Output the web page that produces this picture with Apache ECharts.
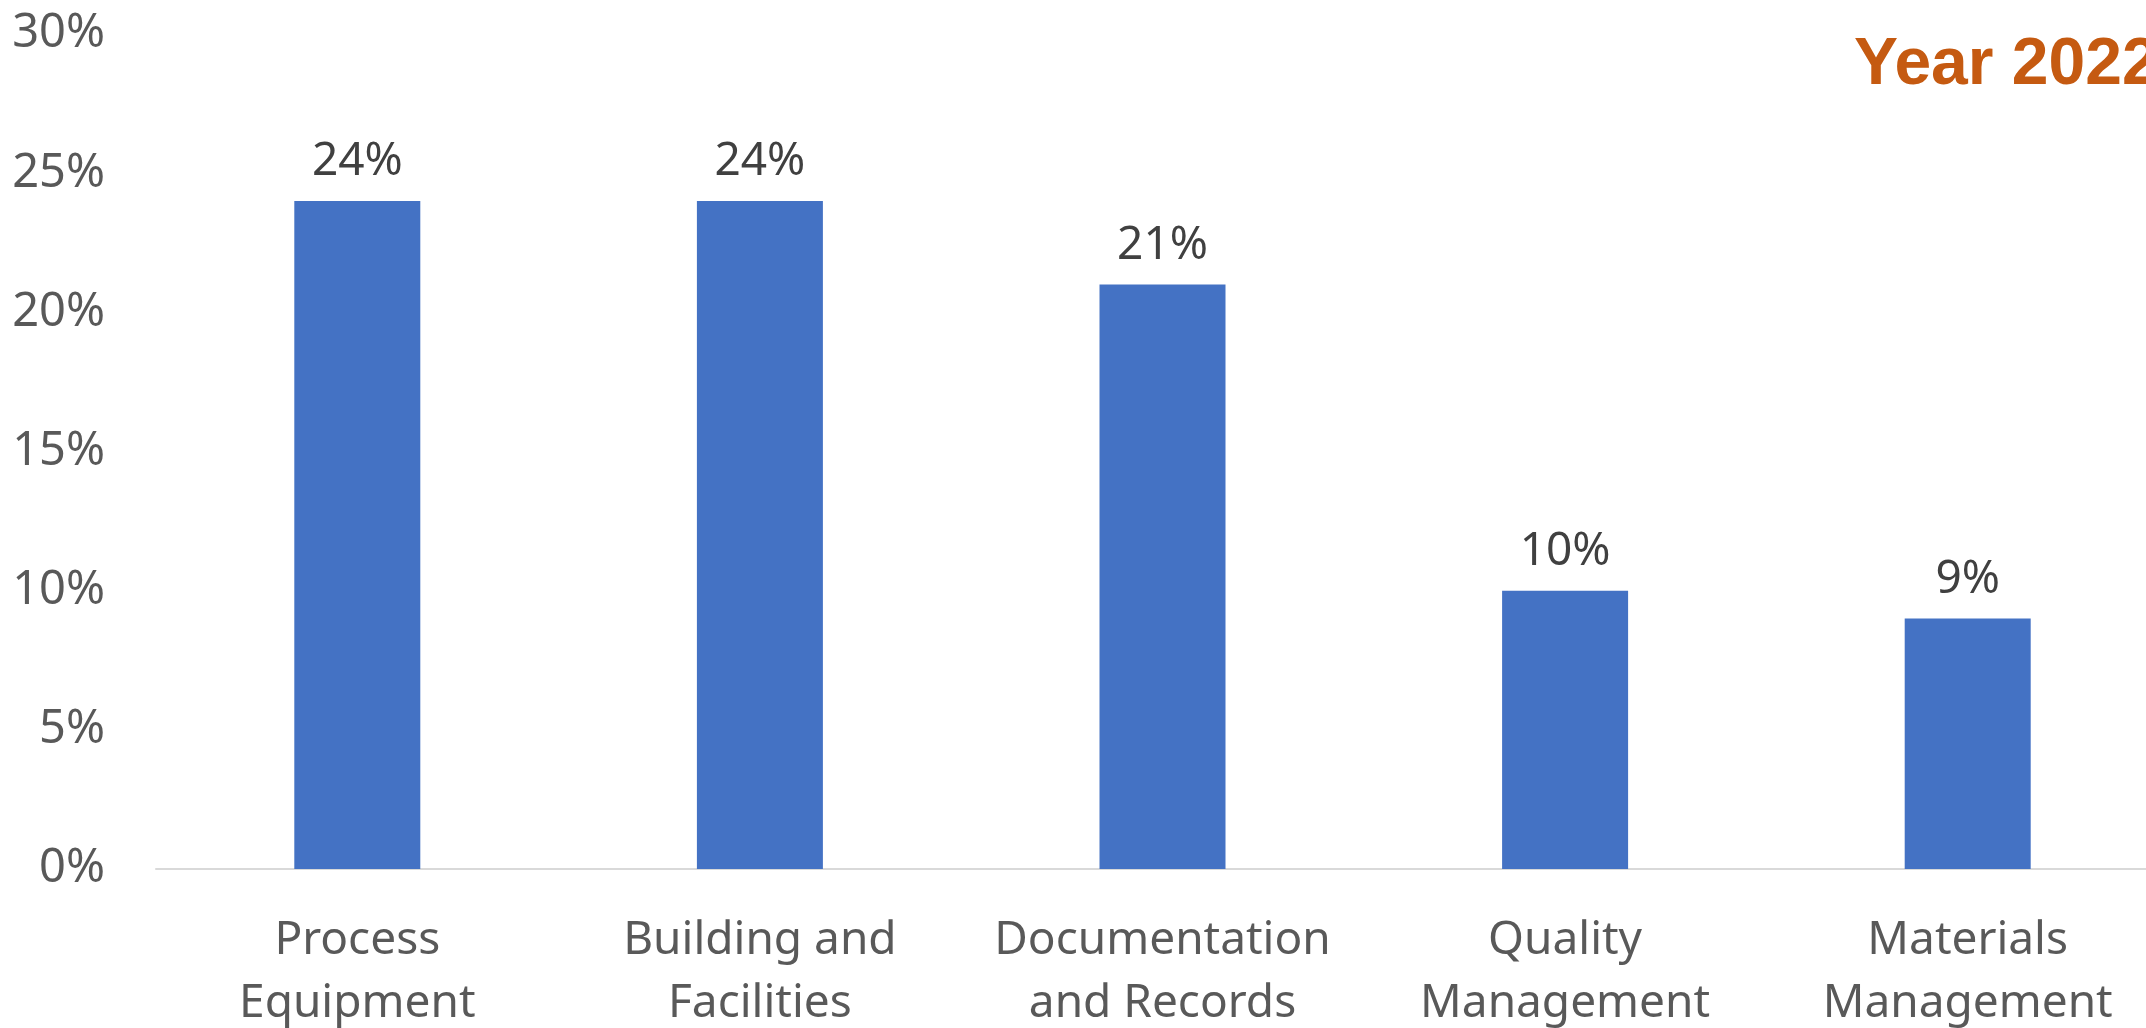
<!DOCTYPE html>
<html>
<head>
<meta charset="utf-8">
<script src="https://cdn.jsdelivr.net/npm/echarts@6/dist/echarts.min.js"></script>
<style>
html,body{margin:0;padding:0;background:#fff;}
#chart{width:2146px;height:1028px;}
</style>
</head>
<body>
<div id="chart"></div>
<script>
const categories = ['Process\nEquipment', 'Building and\nFacilities', 'Documentation\nand Records', 'Quality\nManagement', 'Materials\nManagement'];
const values = [24, 24, 21, 10, 9];
const yTicks = [0, 5, 10, 15, 20, 25, 30];
const titleText = 'Year 2022';

const chart = echarts.init(document.getElementById('chart'));
chart.setOption({
  animation: false,
  backgroundColor: '#ffffff',
  grid: { left: 156, top: 34, width: 2013, bottom: 159, containLabel: false, outerBoundsMode: 'none' },
  graphic: [{
    type: 'text',
    left: 1854,
    top: 33,
    style: {
      text: titleText,
      fill: '#C55A11',
      font: 'bold 66px "Liberation Sans", Arial, sans-serif'
    }
  }],
  xAxis: {
    type: 'category',
    data: categories,
    axisLine: { show: true, lineStyle: { color: '#d9d9d9', width: 2 } },
    axisTick: { show: false },
    axisLabel: {
      color: '#595959',
      fontFamily: '"Noto Sans", sans-serif',
      fontSize: 46,
      lineHeight: 63,
      margin: 40,
      interval: 0
    }
  },
  yAxis: {
    type: 'value',
    min: yTicks[0],
    max: yTicks[yTicks.length - 1],
    interval: 5,
    splitLine: { show: false },
    axisLine: { show: false },
    axisTick: { show: false },
    axisLabel: {
      color: '#595959',
      fontFamily: '"Noto Sans", sans-serif',
      fontSize: 47,
      margin: 51,
      padding: [8, 0, 0, 0],
      formatter: v => v + '%'
    }
  },
  series: [{
    type: 'bar',
    data: values,
    barWidth: 126,
    itemStyle: { color: '#4472C4' },
    label: {
      show: true,
      position: 'top',
      distance: 16,
      color: '#404040',
      fontFamily: '"Noto Sans", sans-serif',
      fontSize: 46,
      formatter: p => p.value + '%'
    }
  }]
});
</script>
</body>
</html>
